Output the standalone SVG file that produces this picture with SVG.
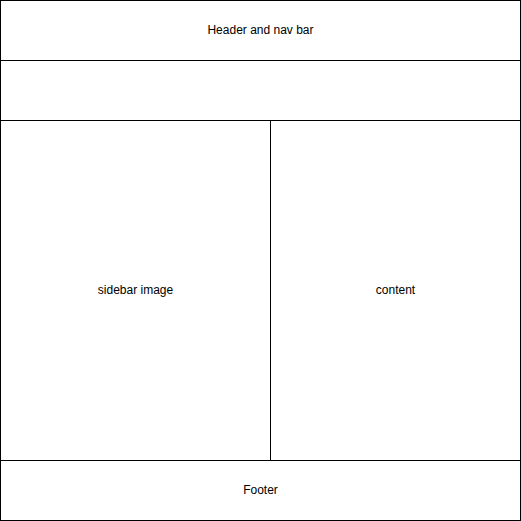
<svg xmlns="http://www.w3.org/2000/svg" width="521" height="521" viewBox="0 0 521 521">
<style>
.box{fill:#fff;stroke:#000;stroke-width:1}
.lbl{font-family:"Liberation Sans",Arial,sans-serif;font-size:12px;fill:#000;text-anchor:middle;dominant-baseline:central}
</style>
<rect width="521" height="521" fill="#fff"/>
<g id="header"><rect class="box" x="0.5" y="0.5" width="520" height="60"/><text class="lbl" x="260.5" y="29.5">Header and nav bar</text></g>
<g id="banner"><rect class="box" x="0.5" y="60.5" width="520" height="60"/></g>
<g id="sidebar"><rect class="box" x="0.5" y="120.5" width="270" height="340"/><text class="lbl" x="135.5" y="289.5">sidebar image</text></g>
<g id="content"><rect class="box" x="270.5" y="120.5" width="250" height="340"/><text class="lbl" x="395.5" y="289.5">content</text></g>
<g id="footer"><rect class="box" x="0.5" y="460.5" width="520" height="60"/><text class="lbl" x="260.5" y="489.5">Footer</text></g>
<g id="connectors"></g>
</svg>
